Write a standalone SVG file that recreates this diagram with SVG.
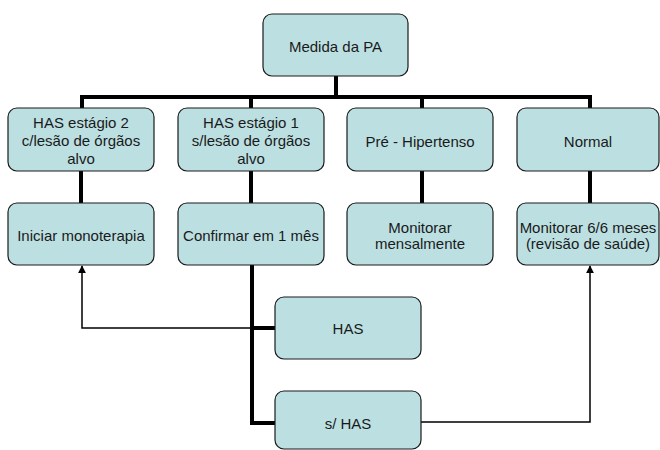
<svg xmlns="http://www.w3.org/2000/svg" width="660" height="450" viewBox="0 0 660 450">
<defs>
<style>
.box{fill:#bce0e2;stroke:#1a1a1a;stroke-width:1.2}
.t{font-family:"Liberation Sans",Arial,sans-serif;font-size:15px;fill:#1a1a1a;text-anchor:middle}
.thick{fill:none;stroke:#000;stroke-width:4}
.thin{fill:none;stroke:#000;stroke-width:1.5}
</style>
<marker id="arr" viewBox="0 0 10 10" refX="9" refY="5" markerWidth="8" markerHeight="8" markerUnits="userSpaceOnUse" orient="auto">
<path d="M0,0 L10,5 L0,10 z" fill="#000"/>
</marker>
</defs>
<rect width="660" height="450" fill="#fff"/>
<g id="connectors">
<path class="thick" d="M336,76 V97 M82,108 V97 H590 V108 M251,97 V108 M422,97 V108"/>
<path class="thick" d="M81,171 V203 M251,171 V203 M422,171 V203 M590,171 V203"/>
<path class="thick" d="M252,265 V423 H275 M252,328 H275"/>
<path class="thin" d="M252,328 H82 V266" marker-end="url(#arr)"/>
<path class="thin" d="M421,422 H590 V266" marker-end="url(#arr)"/>
</g>
<g id="n-medida"><rect class="box" x="263" y="14" width="145" height="62" rx="9"/><text class="t" x="335.5" y="52">Medida da PA</text></g>
<g id="n-has2"><rect class="box" x="8" y="108" width="146" height="63" rx="9"/><text class="t" x="81" y="128">HAS estágio 2</text><text class="t" x="81" y="146">c/lesão de órgãos</text><text class="t" x="81" y="164">alvo</text></g>
<g id="n-has1"><rect class="box" x="178" y="108" width="146" height="63" rx="9"/><text class="t" x="251" y="128">HAS estágio 1</text><text class="t" x="251" y="146">s/lesão de órgãos</text><text class="t" x="251" y="164">alvo</text></g>
<g id="n-pre"><rect class="box" x="347" y="108" width="146" height="63" rx="9"/><text class="t" x="420" y="147">Pré - Hipertenso</text></g>
<g id="n-normal"><rect class="box" x="517" y="108" width="142" height="63" rx="9"/><text class="t" x="588" y="147">Normal</text></g>
<g id="n-iniciar"><rect class="box" x="8" y="203" width="146" height="62" rx="9"/><text class="t" x="81" y="241">Iniciar monoterapia</text></g>
<g id="n-confirmar"><rect class="box" x="178" y="203" width="146" height="62" rx="9"/><text class="t" x="251" y="241">Confirmar em 1 mês</text></g>
<g id="n-monitorar"><rect class="box" x="347" y="203" width="146" height="62" rx="9"/><text class="t" x="420" y="233">Monitorar</text><text class="t" x="420" y="249">mensalmente</text></g>
<g id="n-monitorar6"><rect class="box" x="517" y="203" width="142" height="62" rx="9"/><text class="t" x="588" y="233">Monitorar 6/6 meses</text><text class="t" x="588" y="249">(revisão de saúde)</text></g>
<g id="n-has"><rect class="box" x="275" y="297" width="146" height="62" rx="9"/><text class="t" x="348" y="334">HAS</text></g>
<g id="n-shas"><rect class="box" x="275" y="391" width="146" height="58" rx="9"/><text class="t" x="348" y="429">s/ HAS</text></g>
</svg>
